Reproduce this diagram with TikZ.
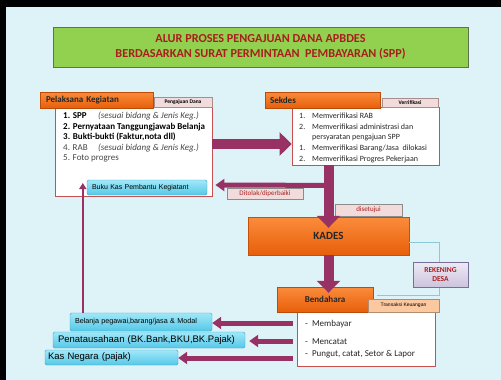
\documentclass[tikz,border=0pt]{standalone}
\usepackage{fontspec}
\setmainfont{Carlito}
\newfontfamily\arialfont{Liberation Sans}
\usetikzlibrary{arrows.meta,calc}

\definecolor{bgblue}{RGB}{221,243,248}
\definecolor{titlegreen}{RGB}{146,208,80}
\definecolor{titleline}{RGB}{95,115,75}
\definecolor{titlered}{RGB}{170,30,30}
\definecolor{orangetop}{RGB}{250,140,60}
\definecolor{orangebot}{RGB}{232,95,10}
\definecolor{boxred}{RGB}{200,80,80}
\definecolor{tagpink}{RGB}{242,220,219}
\definecolor{tagline}{RGB}{170,140,140}
\definecolor{tagpeach}{RGB}{252,200,160}
\definecolor{cyantop}{RGB}{160,232,248}
\definecolor{cyanbot}{RGB}{85,200,232}
\definecolor{cyanline}{RGB}{60,165,200}
\definecolor{plum}{RGB}{152,50,100}
\definecolor{tealline}{RGB}{140,200,215}
\definecolor{lavtop}{RGB}{238,234,245}
\definecolor{lavbot}{RGB}{205,195,222}
\definecolor{lavline}{RGB}{120,110,150}
\definecolor{txtgray}{RGB}{70,70,70}

\tikzset{
	headbox/.style={draw=orangebot!80!black, top color=orangetop, bottom color=orangebot, inner sep=0pt, font=\bfseries\fontsize{9}{10}\selectfont, text=black!85},
	tagbox/.style={draw=tagline, fill=tagpink, inner sep=0pt, font=\fontsize{6}{7}\selectfont},
	listbox/.style={draw=boxred, fill=white, line width=0.8pt, inner sep=0pt},
	cyanbox/.style={draw=cyanline, top color=cyantop, bottom color=cyanbot, rounded corners=1.5pt, inner ysep=0pt, inner xsep=5pt, align=left},
	bigarrow/.style={draw=plum, line width=10pt, -{Triangle[width=23pt,length=12pt]}},
	midarrow/.style={draw=plum, line width=5pt, -{Triangle[width=12pt,length=9pt]}},
}

\begin{document}
\begin{tikzpicture}[x=1pt, y=-1pt]
			%%%%% START %%%%%
			
			\useasboundingbox (0,0) rectangle (501,380);
			\fill[black] (0,0) rectangle (501,380);
			\fill[bgblue] (6,7) rectangle (501,380);
			
			% title
			\node[draw=titleline, fill=titlegreen, minimum width=415, minimum height=40, inner sep=0pt, align=center, text=titlered, font=\bfseries\fontsize{12.2}{15.5}\selectfont] (title) at (260.5,47) {ALUR PROSES PENGAJUAN DANA APBDES\\BERDASARKAN SURAT PERMINTAAN \ PEMBAYARAN (SPP)};
			
			% pelaksana kegiatan
			\node[listbox, minimum width=157, minimum height=89] (pelaksana box) at (133.5,151.5) {};
			\node[headbox, minimum height=16, text width=101, inner xsep=6pt, align=left] (pelaksana head) at (96.5,100) {Pelaksana Kegiatan};
			\node[tagbox, minimum width=58, minimum height=10, font=\bfseries\fontsize{5.5}{6}\selectfont] (pengajuan) at (183,102) {Pengajuan Dana};
			\node[anchor=north west, inner sep=0pt, align=left, font=\fontsize{9}{10.5}\selectfont] (pelaksana list) at (63,112) {%
				\textbf{\makebox[35pt][l]{1. SPP}}{\color{txtgray}\itshape(sesuai bidang \& Jenis Keg.)}\\
				\textbf{2. Pernyataan Tanggungjawab Belanja}\\
				\textbf{3. Bukti-bukti (Faktur,nota dll)}\\
				{\color{txtgray}\makebox[35pt][l]{4. RAB}\itshape(sesuai bidang \& Jenis Keg.)}\\
				{\color{txtgray}5. Foto progres}};
			\node[cyanbox, text width=110, minimum height=15, font=\arialfont\fontsize{7}{8}\selectfont] (bukukas) at (147,187.5) {Buku Kas Pembantu Kegiatant};
			
			% sekdes
			\node[listbox, minimum width=147, minimum height=58] (sekdes box) at (365.5,136) {};
			\node[headbox, minimum height=16, text width=105, inner xsep=5pt, align=left] (sekdes head) at (322.5,100) {Sekdes};
			\node[tagbox, minimum width=56, minimum height=9, font=\bfseries\fontsize{5.5}{6}\selectfont] (verifikasi) at (410,102.5) {Verrifikasi};
			\node[anchor=north west, inner sep=0pt, align=left, text=black!85, font=\fontsize{8}{10.75}\selectfont] (sekdes list) at (299,112.5) {%
				\makebox[13pt][l]{1.}Memverifikasi RAB\\
				\makebox[13pt][l]{2.}Memverifikasi administrasi dan\\
				\makebox[13pt][l]{}persyaratan pengajuan SPP\\
				\makebox[13pt][l]{1.}Memverifikasi Barang/Jasa \ dilokasi\\
				\makebox[13pt][l]{2.}Memverifikasi Progres Pekerjaan};
			
			% kades
			\node[draw=orangebot!85!black, top color=orangetop, bottom color=orangebot, minimum width=161, minimum height=38, inner sep=0pt, font=\bfseries\fontsize{11}{12}\selectfont, text=black!85] (kades) at (328.5,236) {KADES};
			\node[tagbox, draw=black!45, minimum width=67, minimum height=12, text=titlered, font=\fontsize{7}{8}\selectfont] (disetujui) at (368.5,210) {disetujui};
			\node[tagbox, draw=black!45, minimum width=76, minimum height=11, text=titlered, font=\fontsize{7}{8}\selectfont] (ditolak) at (265,193.5) {Ditolak/diperbaiki};
			
			% rekening desa
			\draw[tealline, line width=0.8pt] ($(kades.east)+(0,6)$) -- ++(30,0) -- ++(0,53) -- ++(-62,0);
			\node[draw=lavline, top color=lavtop, bottom color=lavbot, minimum width=55, minimum height=25, inner sep=0pt, align=center, text=titlered, font=\bfseries\fontsize{7.5}{9}\selectfont] (rekening) at (440.5,274.5) {REKENING\\DESA};
			
			% bendahara
			\node[listbox, minimum width=138, minimum height=54] (bendahara box) at (366,339) {};
			\node[headbox, minimum width=96, minimum height=25] (bendahara head) at (325,299.5) {Bendahara};
			\node[tagbox, fill=tagpeach, draw=tagpeach!70!black, minimum width=71, minimum height=13, font=\arialfont\fontsize{5}{6}\selectfont] (transaksi) at (403.5,305.5) {Transaksi Keuangan};
			\node[anchor=west, inner sep=0pt, text=black!85, font=\fontsize{9}{10}\selectfont] (bayar) at (305,324) {-\ \ Membayar};
			\node[anchor=west, inner sep=0pt, text=black!85, font=\fontsize{9}{10}\selectfont] (catat) at (305,342) {-\ \ Mencatat};
			\node[anchor=west, inner sep=0pt, text=black!85, font=\fontsize{9}{10}\selectfont] (pungut) at (305,354) {-\ \ Pungut, catat, Setor \& Lapor};
			
			% cyan outputs
			\node[cyanbox, text width=132, minimum height=18, font=\arialfont\fontsize{7.2}{8}\selectfont] (belanja) at (141,322) {Belanja pegawai,barang/jasa \& Modal};
			\node[cyanbox, text width=182, minimum height=16, font=\arialfont\fontsize{9.5}{11}\selectfont] (penatausahaan) at (149,340) {Penatausahaan (BK.Bank,BKU,BK.Pajak)};
			\node[cyanbox, text width=127, inner xsep=3pt, minimum height=15, font=\arialfont\fontsize{9.5}{11}\selectfont] (kasnegara) at (111.5,357.5) {Kas Negara (pajak)};
			
			% arrows
			\draw[bigarrow] ($(pelaksana box.east)+(0,-7.5)$) -- ($(sekdes box.west)+(0,8)$);
			\draw[midarrow] ($(sekdes box.south)+(-37,20)$) -- ($(pelaksana box.east)+(3,33.5)$);
			\draw[bigarrow] (kades.north |- sekdes box.south) -- ($(kades.north)+(0,11)$);
			\draw[bigarrow] (kades.south) -- ($(kades.south |- bendahara head.north)+(0,6)$);
			\draw[midarrow] ($(bendahara box.west)+(-4,-16)$) -- ($(belanja.east)+(0,1)$);
			\draw[midarrow] ($(bendahara box.west)+(-4,2)$) -- ($(penatausahaan.east)+(4,1)$);
			\draw[midarrow] ($(bendahara box.west)+(-4,19)$) -- ($(kasnegara.east)+(0,0.5)$);
			\draw[plum, line width=2pt, -{Triangle[width=7pt,length=6pt]}] ($(belanja.north west)+(13,0)$) -- ($(bukukas.west)+(-4,-4.5)$);
			
			%%%%% END %%%%%
\end{tikzpicture}
\end{document}
